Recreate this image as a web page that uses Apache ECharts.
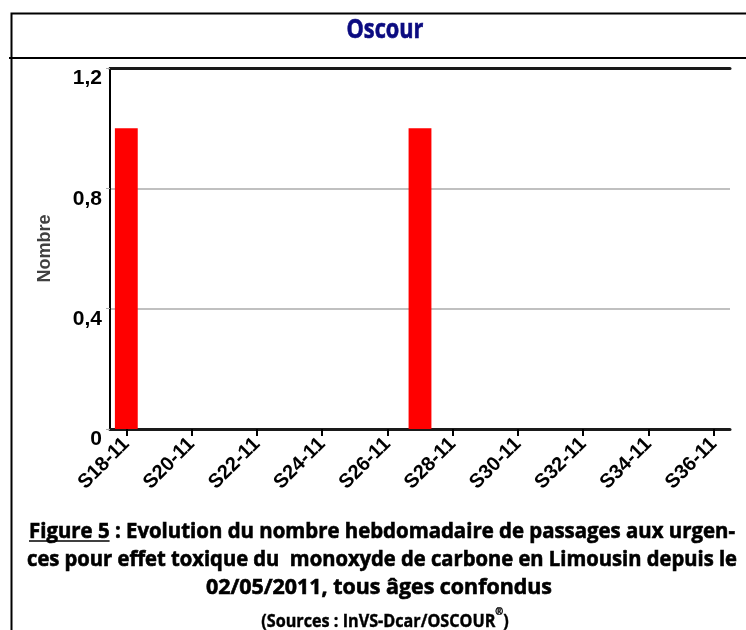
<!DOCTYPE html>
<html>
<head>
<meta charset="utf-8">
<script src="https://cdn.jsdelivr.net/npm/echarts@6/dist/echarts.min.js"></script>
<style>
html,body{margin:0;padding:0;background:#fff;}
#c{width:746px;height:630px;}
</style>
</head>
<body>
<div id="c"></div>
<script>
// ---- data ----
const weeks = ['S18-11','S19-11','S20-11','S21-11','S22-11','S23-11','S24-11','S25-11','S26-11','S27-11','S28-11','S29-11','S30-11','S31-11','S32-11','S33-11','S34-11','S35-11','S36-11'];
const passages = [1,0,0,0,0,0,0,0,0,1,0,0,0,0,0,0,0,0,0];
const yTicks = [0, 0.4, 0.8, 1.2];
const chartTitle = 'Oscour';
const yName = 'Nombre';
const captionLine1Label = 'Figure 5';
const captionLine1Rest = ' : Evolution du nombre hebdomadaire de passages aux urgen-';
const captionLine2 = 'ces pour effet toxique du  monoxyde de carbone en Limousin depuis le';
const captionLine3 = '02/05/2011, tous âges confondus';
const captionLine4 = '(Sources : InVS-Dcar/OSCOUR';

const capFamily = '"Open Sans", "Noto Sans", sans-serif';
const axisFamily = '"Liberation Sans", Arial, sans-serif';

const chart = echarts.init(document.getElementById('c'), null, {renderer:'canvas'});

const cv = document.createElement('canvas').getContext('2d');
function measure(txt, font) { cv.font = font; return cv.measureText(txt).width; }

// a horizontally condensed text line, fitted to the width it has in the reference
function fitText(txt, font, cx, cy, targetW, fill) {
  const s = targetW / measure(txt, font);
  return { type: 'text', x: cx, y: cy, scaleX: s, scaleY: 1,
    style: { text: txt, x: 0, y: 0, align: 'center', verticalAlign: 'middle', font: font,
             fill: fill || '#000', stroke: fill || '#000', lineWidth: 0.6 } };
}

const capFont = 'bold 21px ' + capFamily;
const line1 = captionLine1Label + captionLine1Rest;
const l1W = 706, l1C = 382;
const s1 = l1W / measure(line1, capFont);
const ulLeft = l1C - l1W / 2;
const ulW = measure(captionLine1Label, capFont) * s1;

const l4Font = 'bold 17px ' + capFamily;
const l4Text = captionLine4 + '®)';
const s4 = 253 / measure(l4Text, l4Font);

chart.setOption({
  animation: false,
  backgroundColor: '#ffffff',
  grid: { left: 110, right: 16, top: 68, bottom: 201, containLabel: false },
  xAxis: [{
    type: 'category',
    data: weeks,
    boundaryGap: true,
    axisLine: { lineStyle: { color: '#1a1a1a', width: 3 } },
    axisTick: { show: true, alignWithLabel: true, interval: 1, length: 7, lineStyle: { color: '#000', width: 2 } },
    axisLabel: { interval: 1, rotate: 45, margin: 12, color: '#000', fontWeight: 'bold', fontSize: 20, fontFamily: axisFamily },
    splitLine: { show: false }
  }, {
    type: 'category',
    data: weeks,
    position: 'top',
    axisLine: { lineStyle: { color: '#1a1a1a', width: 3 } },
    axisTick: { show: false },
    axisLabel: { show: false }
  }],
  yAxis: {
    type: 'value',
    min: yTicks[0],
    max: yTicks[yTicks.length - 1],
    interval: 0.4,
    name: yName,
    nameLocation: 'middle',
    nameRotate: 90,
    nameGap: 56,
    nameTextStyle: { color: '#404040', fontWeight: 'bold', fontSize: 18, fontFamily: axisFamily },
    axisLine: { show: true, lineStyle: { color: '#000', width: 2 } },
    axisTick: { show: true, length: 4, lineStyle: { color: '#aaaaaa', width: 1 } },
    axisLabel: {
      margin: 8, color: '#000', fontWeight: 'bold', fontSize: 21, fontFamily: axisFamily,
      verticalAlign: 'top',
      formatter: v => String(Math.round(v * 10) / 10).replace('.', ',')
    },
    splitLine: { show: true, lineStyle: { color: '#c0c0c0', width: 2 } }
  },
  series: [{
    type: 'bar',
    data: passages,
    barWidth: '70%',
    itemStyle: { color: '#ff0000' }
  }],
  graphic: [
    { type: 'rect', left: 9, top: 11, z: -1, shape: { width: 760, height: 640 }, style: { fill: 'none', stroke: '#000', lineWidth: 2 } },
    { type: 'line', shape: { x1: 9, y1: 58, x2: 746, y2: 58 }, style: { stroke: '#000', lineWidth: 2 } },
    fitText(chartTitle, 'bold 27px ' + capFamily, 385, 30, 77, '#0b0b80'),
    fitText(line1, capFont, l1C, 532, l1W),
    { type: 'line', shape: { x1: ulLeft, y1: 541, x2: ulLeft + ulW, y2: 541 }, style: { stroke: '#000', lineWidth: 1.5 } },
    fitText(captionLine2, capFont, 382, 560, 710),
    fitText(captionLine3, capFont, 379, 588, 346),
    { type: 'text', x: 385, y: 619, scaleX: s4, scaleY: 1,
      style: { text: '{n|' + captionLine4 + '}{sup|®}{n|)}', x: 0, y: 0, align: 'center', verticalAlign: 'middle', font: l4Font,
        fill: '#000', stroke: '#000', lineWidth: 0.4,
        rich: {
          n: { fontSize: 17, fontWeight: 'bold', fontFamily: capFamily, lineHeight: 24, verticalAlign: 'bottom' },
          sup: { fontSize: 10, fontWeight: 'bold', fontFamily: capFamily, lineHeight: 12, verticalAlign: 'top' }
        } } }
  ]
});
</script>
</body>
</html>
